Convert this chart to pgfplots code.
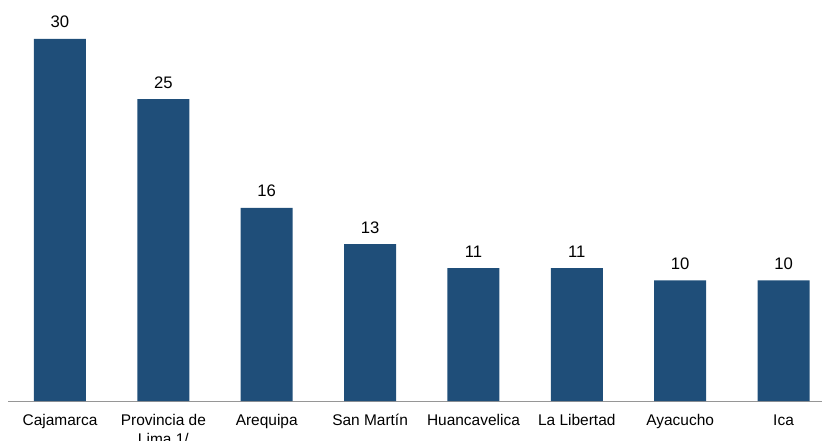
\documentclass[border=0pt]{standalone}
\usepackage{pgfplots}
\pgfplotsset{compat=1.18}
\usepackage{fontspec}
\setmainfont{Liberation Sans}
\definecolor{barblue}{RGB}{31,78,121}
\definecolor{axgray}{RGB}{150,150,150}
\begin{document}
\begin{tikzpicture}
\clip (0,0) rectangle (616.5pt,330pt);
\begin{axis}[
  at={(6pt,29.25pt)}, anchor=south west,
  scale only axis, width=610.5pt, height=300.75pt,
  xmin=-0.503, xmax=7.372, ymin=0, ymax=33.22,
  axis x line*=bottom, axis y line=none,
  x axis line style={color=axgray, line width=0.75pt},
  xtick=data,
  xticklabels={Cajamarca,{\begin{tabular}[t]{@{}c@{}}Provincia de\\Lima 1/\end{tabular}},Arequipa,San Martín,Huancavelica,La Libertad,Ayacucho,Ica},
  xticklabel style={font=\fontsize{11.6}{14}\selectfont, anchor=base, inner sep=0pt, yshift=-18.5pt},
  major tick length=0pt,
  ytick=\empty,
  clip=false,
  nodes near coords,
  /pgf/number format/assume math mode=true,
  every node near coord/.append style={font=\fontsize{12.5}{14}\selectfont, anchor=base, yshift=8.25pt, color=black},
]
\addplot[ybar, bar width=39pt, fill=barblue, draw=none] coordinates {
(0,30) (1,25) (2,16) (3,13) (4,11) (5,11) (6,10) (7,10)
};
\end{axis}
\end{tikzpicture}
\end{document}
